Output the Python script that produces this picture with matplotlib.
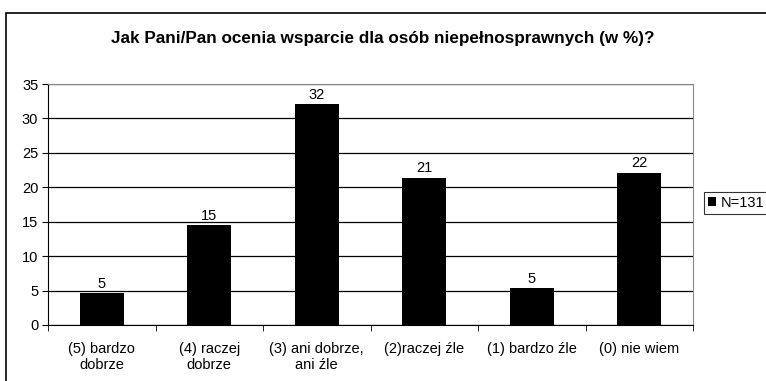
import matplotlib
matplotlib.use("Agg")
import matplotlib.pyplot as plt
from matplotlib.patches import Rectangle
import math

categories = ["(5) bardzo\ndobrze", "(4) raczej\ndobrze", "(3) ani dobrze,\nani źle",
              "(2)raczej źle", "(1) bardzo źle", "(0) nie wiem"]
values = [4.58, 14.50, 32.06, 21.37, 5.34, 22.14]
series_name = "N=131"
title = "Jak Pani/Pan ocenia wsparcie dla osób niepełnosprawnych (w %)?"
yticks = [0, 5, 10, 15, 20, 25, 30, 35]

plt.rcParams["font.family"] = ["Liberation Sans", "DejaVu Sans"]

W, H = 766, 381
fig = plt.figure(figsize=(W / 100, H / 100), dpi=100)

# outer chart frame
fig.patches.append(Rectangle((6 / W, -0.1), 1.2, (H - 13) / H + 0.1,
                             transform=fig.transFigure, fill=False,
                             edgecolor="black", linewidth=1.2, zorder=0))

ax = fig.add_axes([48 / W, (H - 325) / H, (693 - 48) / W, (325 - 84) / H])
x = list(range(len(categories)))
bars = ax.bar(x, values, width=0.41, color="black", zorder=3, label=series_name)

for xi, v in zip(x, values):
    ax.text(xi, v + 0.35, str(math.floor(v + 0.5)), ha="center", va="bottom",
            fontsize=10.5, color="black")

ax.set_xlim(-0.5, len(categories) - 0.5)
ax.set_ylim(0, 35)
ax.set_yticks(yticks)
ax.set_yticklabels([str(t) for t in yticks], fontsize=10.5)
ax.set_xticks(x)
ax.set_xticklabels(categories, fontsize=10.5, linespacing=1.2)
ax.tick_params(axis="x", length=0, pad=12)
ax.set_xticks([i - 0.5 for i in range(len(categories) + 1)], minor=True)
ax.tick_params(axis="x", which="minor", length=4, color="black", direction="out")
ax.tick_params(axis="y", length=4, color="black", direction="out", pad=3)

ax.yaxis.grid(True, color="black", linewidth=0.9, zorder=1)
ax.set_axisbelow(True)
for side in ("left", "bottom"):
    ax.spines[side].set_color("black")
for side in ("top", "right"):
    ax.spines[side].set_color("#888888")

fig.text(0.5, (H - 38) / H, title, ha="center", va="center",
         fontsize=12.3, fontweight="bold")

leg = fig.legend(handles=[bars], labels=[series_name], loc="center left",
                 bbox_to_anchor=(704 / W, (H - 203) / H), fontsize=10.5,
                 frameon=True, fancybox=False, edgecolor="black",
                 handlelength=0.6, handleheight=0.6, handletextpad=0.3,
                 borderpad=0.25, borderaxespad=0)
leg.get_frame().set_linewidth(0.8)

fig.savefig("out.png", dpi=100)
